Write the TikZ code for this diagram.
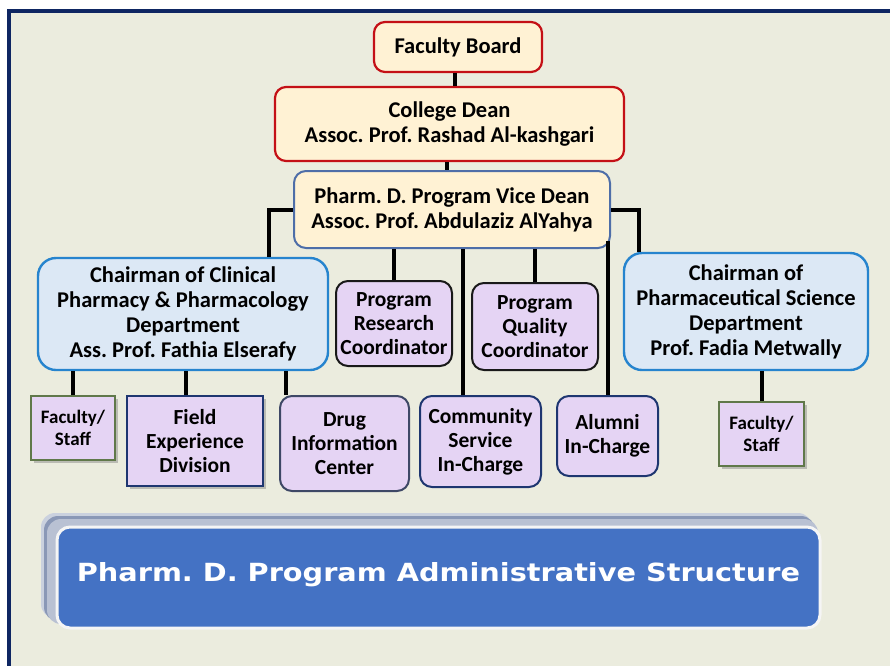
\documentclass[tikz,border=0pt]{standalone}
\usepackage{fontspec}
\usepackage{graphicx}
\setmainfont{Carlito}
\newfontfamily\titlefont{DejaVu Sans}
\usetikzlibrary{shadows}
\frenchspacing

\definecolor{bgpaper}{RGB}{235,236,222}
\definecolor{framenavy}{RGB}{14,38,98}
\definecolor{deanred}{RGB}{196,16,22}
\definecolor{cream}{RGB}{255,242,212}
\definecolor{vpblue}{RGB}{78,110,168}
\definecolor{chairblue}{RGB}{38,132,206}
\definecolor{chairfill}{RGB}{220,232,245}
\definecolor{lavender}{RGB}{229,212,244}
\definecolor{unitnavy}{RGB}{30,54,112}
\definecolor{drugline}{RGB}{62,72,102}
\definecolor{staffolive}{RGB}{96,120,74}
\definecolor{titleblue}{RGB}{68,114,196}
\definecolor{layergray}{RGB}{138,152,182}

\begin{document}
\begin{tikzpicture}[x=1pt,y=-1pt,
    box/.style={align=center,inner sep=0pt,font=\bfseries\fontsize{22.5}{25}\selectfont},
    sz/.style 2 args={minimum width=#1pt,minimum height=#2pt},
    topbox/.style={box,draw=deanred,fill=cream,line width=2.2pt,rounded corners=11pt},
    vicebox/.style={box,draw=vpblue,fill=cream,line width=2pt,rounded corners=12pt},
    chairbox/.style={box,draw=chairblue,fill=chairfill,line width=2.4pt,rounded corners=18pt},
    unitbox/.style={box,fill=lavender,line width=2pt,rounded corners=12pt,
                    font=\bfseries\fontsize{21.5}{24}\selectfont},
    staffbox/.style={box,draw=staffolive,fill=lavender,line width=1.6pt,
                     font=\bfseries\fontsize{19}{22}\selectfont,
                     drop shadow={shadow xshift=3pt,shadow yshift=-3pt,opacity=.45}},
    link/.style={line width=4pt}
]
    \useasboundingbox (0,0) rectangle (890,665);
    \fill[white] (0,0) rectangle (890,665);
    \fill[bgpaper] (9,11) rectangle (895,670);
    \draw[framenavy,line width=4pt] (9,670) -- (9,11) -- (895,11);

    % top of the chart
    \node[topbox,sz={168}{50}] (board) at (458,47) {Faculty Board};
    \node[topbox,sz={349}{74}] (dean) at (449.5,124) {College Dean\\Assoc. Prof. Rashad Al-kashgari};
    \node[vicebox,sz={316}{77}] (vp) at (452,209.5) {Pharm. D. Program Vice Dean\\Assoc. Prof. Abdulaziz AlYahya};

    % departments
    \node[chairbox,sz={290}{112}] (clin) at (183,314) {Chairman of Clinical\\Pharmacy \& Pharmacology\\Department\\Ass. Prof. Fathia Elserafy};
    \node[chairbox,sz={244}{117}] (psci) at (746,311.5) {Chairman of\\Pharmaceutical Science\\Department\\Prof. Fadia Metwally};

    % coordinators
    \node[unitbox,draw=black!90,sz={116}{85}] (research) at (394,323.5) {Program\\Research\\Coordinator};
    \node[unitbox,draw=black!90,sz={126}{87}] (quality) at (535,326.5) {Program\\Quality\\Coordinator};
    \node[unitbox,draw=unitnavy,sz={121}{91}] (comm) at (480.5,441.5) {Community\\Service\\In-Charge};
    \node[unitbox,draw=unitnavy,sz={101}{80}] (alumni) at (607.5,436) {Alumni\\In-Charge};

    % units under the departments
    \node[staffbox,sz={84}{64}] (staffa) at (73,428) {Faculty/\\Staff};
    \node[unitbox,draw=unitnavy,line width=2.6pt,rounded corners=0pt,sz={136}{90},
          drop shadow={shadow xshift=3pt,shadow yshift=-3pt,opacity=.45}] (field) at (195,441) {Field\\Experience\\Division};
    \node[unitbox,draw=drugline,sz={129}{95}] (drug) at (344.5,443.5) {Drug\\Information\\Center};
    \node[staffbox,sz={85}{64}] (staffb) at (761.5,434) {Faculty/\\Staff};

    \begin{scope}[link]
    \coordinate (fb) at ([xshift=-3pt]board.south);
    \draw (fb) -- (fb |- dean.north);
    \coordinate (cd) at ([xshift=-3pt]dean.south);
    \draw (cd) -- (cd |- vp.north);
    \draw (vp.west) -| ([xshift=-60pt]clin.north east);
    \draw (vp.east) -| ([xshift=16pt]psci.north west);
    \draw (research.north) -- (research.north |- vp.south);
    \draw (quality.north) -- (quality.north |- vp.south);
    \coordinate (cs) at ([xshift=-18pt]comm.north);
    \draw (cs) -- (cs |- vp.south);
    \coordinate (al) at ([yshift=8pt]vp.south east);
    \draw (alumni.north) -- (alumni.north |- al);
    \draw (staffa.north) -- (staffa.north |- clin.south);
    \coordinate (fe) at ([xshift=-9pt]field.north);
    \draw (fe) -- (fe |- clin.south);
    \coordinate (di) at ([xshift=7pt]drug.north west);
    \draw (di) -- (di |- clin.south);
    \draw (staffb.north) -- (staffb.north |- psci.south);
    \end{scope}

    % title banner
    \fill[layergray!45!white,rounded corners=14pt] (41,513) rectangle (812,618);
    \fill[layergray,rounded corners=14pt] (44,516) rectangle (815,621);
    \fill[layergray!60!white,rounded corners=14pt] (47,519) rectangle (818,624);
    \node[draw=white!92!gray,line width=3pt,fill=titleblue,rounded corners=13pt,
          sz={763}{101},inner sep=0pt,text=white,
          font=\titlefont\bfseries\fontsize{25}{30}\selectfont] (title) at (438.5,577.5)
          {\raisebox{12pt}{\scalebox{1.15}[1]{Pharm. D. Program Administrative Structure}}};
\end{tikzpicture}
\end{document}
